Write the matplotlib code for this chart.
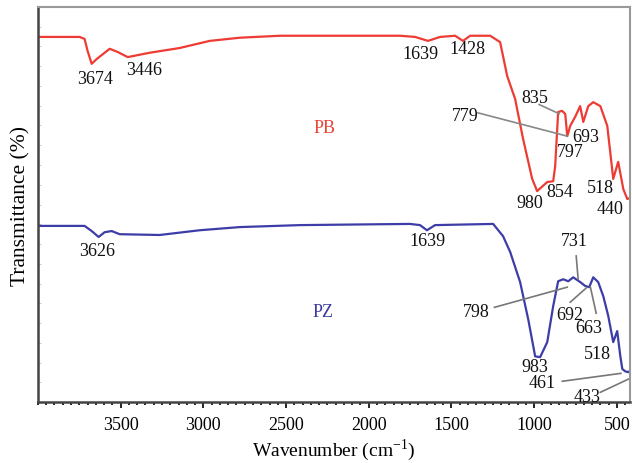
import matplotlib
matplotlib.use("Agg")
from matplotlib import pyplot as plt
from matplotlib.ticker import MultipleLocator, NullFormatter

plt.rcParams['font.family'] = ['Liberation Serif', 'DejaVu Serif']

# spectra (wavenumber, transmittance in arbitrary %)
pb_wn = [4000, 3748, 3718, 3700, 3675, 3645, 3566, 3518, 3457, 3324, 3143, 2961,
         2780, 2537, 2114, 1811, 1720, 1642, 1569, 1478, 1430, 1387, 1266, 1206,
         1163, 1115, 1067, 1012, 982, 921, 885, 873, 855, 831, 812, 800, 782, 752,
         722, 703, 673, 643, 600, 558, 522, 492, 461, 437, 407]
pb_t = [92.4, 92.4, 91.9, 88.9, 85.6, 86.8, 89.4, 88.6, 87.3, 88.4, 89.6, 91.4,
        92.2, 92.7, 92.7, 92.7, 92.4, 91.4, 92.4, 92.7, 91.4, 92.7, 92.7, 91.1,
        82.5, 76.7, 66.6, 56.5, 53.4, 55.7, 55.9, 59.7, 73.4, 73.7, 72.9, 67.3,
        69.9, 72.2, 74.9, 70.9, 74.9, 75.9, 74.9, 69.9, 56.5, 60.8, 53.9, 51.4, 51.9]

pz_wn = [4000, 3718, 3675, 3633, 3597, 3554, 3506, 3264, 3022, 2780, 2416, 1751,
         1690, 1648, 1599, 1248, 1188, 1145, 1085, 1036, 994, 964, 921, 885, 855,
         824, 794, 764, 722, 691, 667, 643, 613, 582, 552, 522, 498, 479, 467, 449,
         431, 407]
pz_t = [44.6, 44.6, 43.3, 41.8, 43.0, 43.3, 42.5, 42.3, 43.5, 44.3, 44.8, 45.1,
        44.8, 43.5, 44.8, 45.1, 42.0, 38.0, 30.4, 21.0, 11.6, 11.4, 15.2, 24.3,
        30.6, 31.1, 30.6, 31.6, 30.4, 29.4, 29.1, 31.6, 30.4, 26.8, 21.8, 15.2,
        18.0, 11.6, 8.4, 7.8, 7.6, 8.4]

x_ticks = [3500, 3000, 2500, 2000, 1500, 1000, 500]

# peak labels: (text, label x, label y, line from, line to)
pb_labels = [
    ("3674", 3657, 81.8, None, None),
    ("3446", 3355, 84.1, None, None),
    ("1639", 1690, 88.1, None, None),
    ("1428", 1406, 89.4, None, None),
    ("835", 994, 77.2, (970, 75.3), (850, 73.0)),
    ("779", 1418, 72.4, (1340, 73.2), (800, 67.3)),
    ("693", 690, 67.3, None, None),
    ("797", 782, 63.5, None, None),
    ("980", 1024, 50.6, None, None),
    ("854", 843, 53.2, None, None),
    ("518", 600, 54.4, None, None),
    ("440", 540, 48.9, None, None),
]
pz_labels = [
    ("3626", 3645, 38.5, None, None),
    ("1639", 1642, 40.8, None, None),
    ("731", 758, 40.8, (746, 37.0), (734, 31.1)),
    ("798", 1351, 23.0, (1240, 24.0), (800, 29.1)),
    ("692", 782, 22.2, (782, 25.3), (685, 28.9)),
    ("663", 672, 18.9, (625, 22.5), (660, 29.1)),
    ("518", 619, 12.4, None, None),
    ("983", 994, 9.1, None, None),
    ("461", 952, 5.1, (830, 5.3), (476, 7.3)),
    ("433", 679, 1.5, (600, 2.5), (407, 6.3)),
]

fig = plt.figure(figsize=(6.32, 4.64), dpi=100, facecolor="white")
ax = fig.add_axes([0.060, 0.131, 0.937, 0.852])

ax.plot(pb_wn, pb_t, color='#ee3b33', lw=1.6)
ax.plot(pz_wn, pz_t, color='#3d3da8', lw=1.6)

for labels, line_col in ((pb_labels, '#888888'), (pz_labels, '#777777')):
    for txt, lx, ly, p0, p1 in labels:
        ax.text(lx, ly, txt, ha='center', va='center', fontsize=13, color='#111111')
        if p0 is not None:
            ax.plot([p0[0], p1[0]], [p0[1], p1[1]], color=line_col, lw=1.2)

ax.text(2265, 69.6, "PB", color='#e8443a', fontsize=13, ha='center', va='center')
ax.text(2277, 23.0, "PZ", color='#3a3aa0', fontsize=13, ha='center', va='center')

ax.set_xlim(4000, 420)
ax.set_ylim(0, 100)
ax.set_xticks(x_ticks)
ax.xaxis.set_minor_locator(MultipleLocator(50))
ax.tick_params(axis='x', which='major', direction='out', length=4, width=1.2,
               labelsize=13, pad=6)
ax.tick_params(axis='x', which='minor', direction='out', length=2.5, width=1.2)
ax.yaxis.set_minor_locator(MultipleLocator(5))
ax.yaxis.set_minor_formatter(NullFormatter())
ax.set_yticks([])
ax.tick_params(axis='y', which='minor', direction='in', length=2, color='#bbbbbb')

for s in ('left', 'bottom'):
    ax.spines[s].set_color('#444444')
    ax.spines[s].set_linewidth(1.8)
for s in ('top', 'right'):
    ax.spines[s].set_color('#999999')
    ax.spines[s].set_linewidth(1.5)

ax.set_xlabel("Wavenumber (cm$^{\\mathregular{-1}}$)", fontsize=14, labelpad=2)
ax.set_ylabel("Transmittance (%)", fontsize=15.5, labelpad=2)

fig.savefig("out.png", dpi=100)
